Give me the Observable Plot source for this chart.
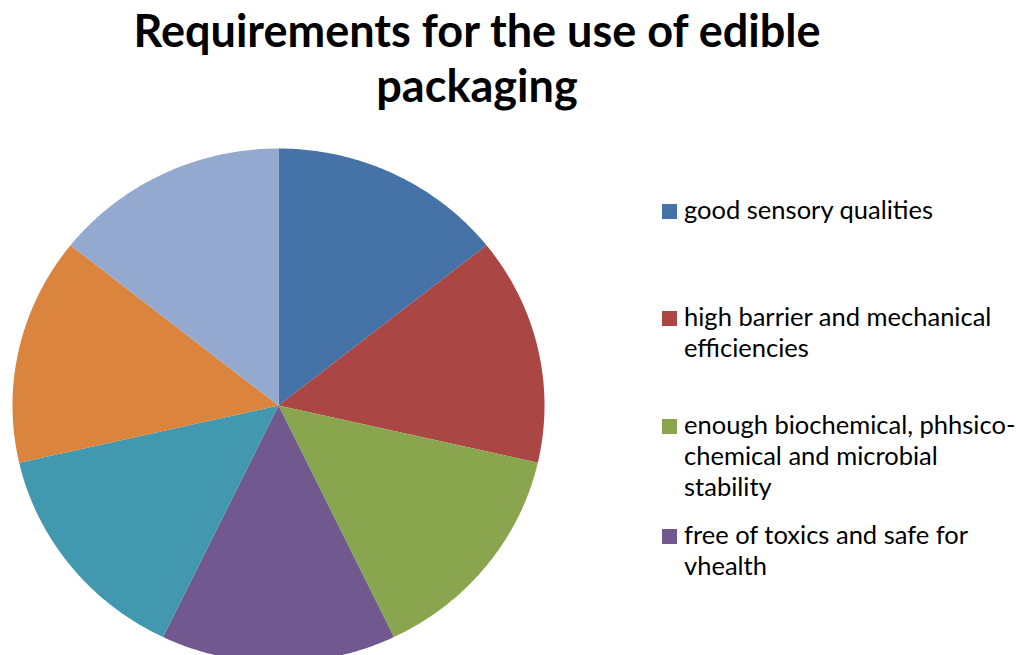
<!DOCTYPE html>
<html><head><meta charset="utf-8">
<script src="https://cdn.jsdelivr.net/npm/d3@7"></script>
<script src="https://cdn.jsdelivr.net/npm/@observablehq/plot@0.6"></script>
<style>
html,body{margin:0;padding:0;background:#fff;overflow:hidden;}
#chart{position:relative;width:1016px;height:655px;overflow:hidden;}
#chart svg{overflow:hidden;}
</style></head><body><div id="chart"></div>
<script>
const titleLines = ["Requirements for the use of edible", "packaging"];
const categories = [
  "good sensory qualities",
  "high barrier and mechanical efficiencies",
  "enough biochemical, phhsico-chemical and microbial stability",
  "free of toxics and safe for vhealth",
  "item 5 (legend cut off)",
  "item 6 (legend cut off)",
  "item 7 (legend cut off)"
];
const values = [1, 1, 1, 1, 1, 1, 1];
const colors = ["#4572A7", "#AA4643", "#89A54E", "#71588F", "#4198AF", "#DB843D", "#93A9CF"];
const legendShown = 4;

// slice outlines derived from the values
const arcs = d3.pie().sort(null).value(d => d)(values);
const pts = [];
arcs.forEach((a, i) => {
  const cat = categories[i];
  pts.push({cat, x: 0, y: 0});
  const n = Math.max(2, Math.ceil((a.endAngle - a.startAngle) / (Math.PI / 360)));
  for (let k = 0; k <= n; k++) {
    const t = a.startAngle + (a.endAngle - a.startAngle) * k / n;
    pts.push({cat, x: Math.sin(t), y: Math.cos(t)});
  }
  pts.push({cat, x: 0, y: 0});
});

const plot = Plot.plot({
  width: 1016, height: 655, margin: 0,
  style: {background: "#fff", overflow: "hidden"},
  x: {domain: [-1, 1], range: [12, 544], axis: null},
  y: {domain: [-1, 1], range: [662, 148], axis: null},
  color: {domain: categories, range: colors},
  marks: [
    Plot.line(pts, {x: "x", y: "y", z: "cat", fill: "cat", stroke: "none", curve: "linear"})
  ]
});
document.getElementById("chart").appendChild(plot);

const color = plot.scale("color");
const ctx = document.createElement("canvas").getContext("2d");
function fitSize(text, weight, family, target) {
  ctx.font = `${weight} 100px ${family}`;
  return 100 * target / ctx.measureText(text).width;
}
const svg = d3.select(plot);

// title
const tFam = "Lato, 'Open Sans', sans-serif";
const tSize = fitSize(titleLines[0], "bold", tFam, 689);
titleLines.forEach((line, i) => {
  svg.append("text").attr("x", 477).attr("y", 47 + i * 55)
    .attr("text-anchor", "middle").attr("font-family", tFam).attr("font-weight", "bold")
    .attr("font-size", tSize).attr("fill", "#000").text(line);
});

// legend
const lFam = "Lato, 'Open Sans', sans-serif";
const lSize = fitSize("high barrier and mechanical", "normal", lFam, 308);
ctx.font = `normal ${lSize}px ${lFam}`;
function wrap(text, maxW) {
  const tokens = text.split(/(?<=[ -])/);
  const lines = [];
  let cur = "";
  tokens.forEach(tok => {
    const test = cur + tok;
    if (cur && ctx.measureText(test.trimEnd()).width > maxW) { lines.push(cur.trimEnd()); cur = tok; }
    else cur = test;
  });
  if (cur) lines.push(cur.trimEnd());
  return lines;
}
const rowBase = [219, 326, 434, 544];
categories.slice(0, legendShown).forEach((cat, i) => {
  const b = rowBase[i];
  svg.append("rect").attr("x", 662).attr("y", b - 15).attr("width", 15).attr("height", 15).attr("fill", color.apply(cat));
  wrap(cat, 332).forEach((line, j) => {
    svg.append("text").attr("x", 684).attr("y", b + j * 31).attr("text-anchor", "start")
      .attr("font-family", lFam).attr("font-size", lSize).attr("fill", "#000").text(line);
  });
});
</script></body></html>
